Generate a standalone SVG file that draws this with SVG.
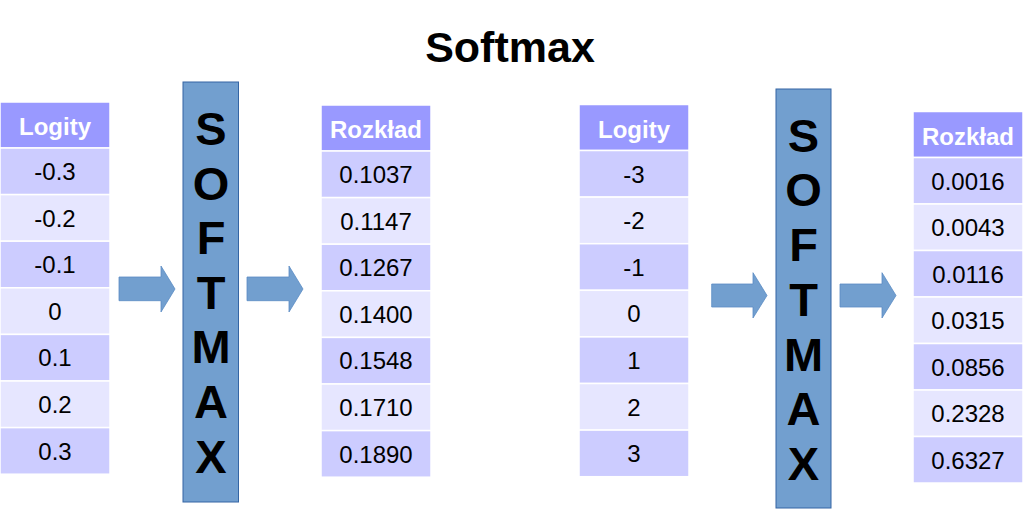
<svg xmlns="http://www.w3.org/2000/svg" width="1024" height="509" viewBox="0 0 1024 509">
<style>
.hd{fill:#9999ff;stroke:#ffffff;stroke-width:1.5}
.r1{fill:#ccccff;stroke:#ffffff;stroke-width:1.5}
.r2{fill:#e6e6ff;stroke:#ffffff;stroke-width:1.5}
.ht{font-family:"Liberation Sans",Arial,sans-serif;font-size:24px;font-weight:bold;fill:#ffffff;text-anchor:middle}
.ct{font-family:"Liberation Sans",Arial,sans-serif;font-size:24px;fill:#000000;text-anchor:middle}
.box{fill:#729fcf;stroke:#3465a4;stroke-width:1}
.bt{font-family:"Liberation Sans",Arial,sans-serif;font-size:47px;font-weight:bold;fill:#000000;text-anchor:middle}
.arr{fill:#729fcf;stroke:#5b8cc4;stroke-width:0.8}
.title{font-family:"Liberation Sans",Arial,sans-serif;font-size:43px;font-weight:bold;fill:#000000;text-anchor:middle}
</style>
<rect width="1024" height="509" fill="#ffffff"/>
<text class="title" x="510" y="62">Softmax</text>

<g id="logity1">
<rect class="hd" x="0" y="102" width="110" height="46"/>
<text class="ht" x="55" y="135">Logity</text>
<rect class="r1" x="0" y="148" width="110" height="46.6"/>
<rect class="r2" x="0" y="194.6" width="110" height="46.6"/>
<rect class="r1" x="0" y="241.2" width="110" height="46.6"/>
<rect class="r2" x="0" y="287.8" width="110" height="46.6"/>
<rect class="r1" x="0" y="334.4" width="110" height="46.6"/>
<rect class="r2" x="0" y="381" width="110" height="46.6"/>
<rect class="r1" x="0" y="427.6" width="110" height="46.6"/>
<text class="ct" x="55" y="180">-0.3</text>
<text class="ct" x="55" y="226.6">-0.2</text>
<text class="ct" x="55" y="273.2">-0.1</text>
<text class="ct" x="55" y="319.8">0</text>
<text class="ct" x="55" y="366.4">0.1</text>
<text class="ct" x="55" y="413">0.2</text>
<text class="ct" x="55" y="459.6">0.3</text>
</g>

<g id="softmax1">
<rect class="box" x="183" y="82" width="55.5" height="420"/>
<text class="bt" x="211" y="145">S</text>
<text class="bt" x="211" y="199.6">O</text>
<text class="bt" x="211" y="254.2">F</text>
<text class="bt" x="211" y="308.8">T</text>
<text class="bt" x="211" y="363.4">M</text>
<text class="bt" x="211" y="418">A</text>
<text class="bt" x="211" y="472.6">X</text>
</g>

<g id="rozklad1">
<rect class="hd" x="321" y="105" width="110" height="46"/>
<text class="ht" x="376" y="138">Rozkład</text>
<rect class="r1" x="321" y="151" width="110" height="46.6"/>
<rect class="r2" x="321" y="197.6" width="110" height="46.6"/>
<rect class="r1" x="321" y="244.2" width="110" height="46.6"/>
<rect class="r2" x="321" y="290.8" width="110" height="46.6"/>
<rect class="r1" x="321" y="337.4" width="110" height="46.6"/>
<rect class="r2" x="321" y="384" width="110" height="46.6"/>
<rect class="r1" x="321" y="430.6" width="110" height="46.6"/>
<text class="ct" x="376" y="183">0.1037</text>
<text class="ct" x="376" y="229.6">0.1147</text>
<text class="ct" x="376" y="276.2">0.1267</text>
<text class="ct" x="376" y="322.8">0.1400</text>
<text class="ct" x="376" y="369.4">0.1548</text>
<text class="ct" x="376" y="416">0.1710</text>
<text class="ct" x="376" y="462.6">0.1890</text>
</g>

<g id="logity2">
<rect class="hd" x="579" y="104.5" width="110" height="46"/>
<text class="ht" x="634" y="137.5">Logity</text>
<rect class="r1" x="579" y="150.5" width="110" height="46.6"/>
<rect class="r2" x="579" y="197.1" width="110" height="46.6"/>
<rect class="r1" x="579" y="243.7" width="110" height="46.6"/>
<rect class="r2" x="579" y="290.3" width="110" height="46.6"/>
<rect class="r1" x="579" y="336.9" width="110" height="46.6"/>
<rect class="r2" x="579" y="383.5" width="110" height="46.6"/>
<rect class="r1" x="579" y="430.1" width="110" height="46.6"/>
<text class="ct" x="634" y="182.5">-3</text>
<text class="ct" x="634" y="229.1">-2</text>
<text class="ct" x="634" y="275.7">-1</text>
<text class="ct" x="634" y="322.3">0</text>
<text class="ct" x="634" y="368.9">1</text>
<text class="ct" x="634" y="415.5">2</text>
<text class="ct" x="634" y="462.1">3</text>
</g>

<g id="softmax2">
<rect class="box" x="776" y="89" width="55" height="419"/>
<text class="bt" x="803.5" y="151.7">S</text>
<text class="bt" x="803.5" y="206.4">O</text>
<text class="bt" x="803.5" y="261.1">F</text>
<text class="bt" x="803.5" y="315.8">T</text>
<text class="bt" x="803.5" y="370.5">M</text>
<text class="bt" x="803.5" y="425.2">A</text>
<text class="bt" x="803.5" y="479.9">X</text>
</g>

<g id="rozklad2">
<rect class="hd" x="913" y="111.5" width="110" height="46"/>
<text class="ht" x="968" y="144.5">Rozkład</text>
<rect class="r1" x="913" y="157.5" width="110" height="46.5"/>
<rect class="r2" x="913" y="204" width="110" height="46.5"/>
<rect class="r1" x="913" y="250.5" width="110" height="46.5"/>
<rect class="r2" x="913" y="297" width="110" height="46.5"/>
<rect class="r1" x="913" y="343.5" width="110" height="46.5"/>
<rect class="r2" x="913" y="390" width="110" height="46.5"/>
<rect class="r1" x="913" y="436.5" width="110" height="46.5"/>
<text class="ct" x="968" y="189.5">0.0016</text>
<text class="ct" x="968" y="236">0.0043</text>
<text class="ct" x="968" y="282.5">0.0116</text>
<text class="ct" x="968" y="329">0.0315</text>
<text class="ct" x="968" y="375.5">0.0856</text>
<text class="ct" x="968" y="422">0.2328</text>
<text class="ct" x="968" y="468.5">0.6327</text>
</g>

<g id="connectors">
<polygon class="arr" points="119,277 161,277 161,266 175,289 161,312 161,300.7 119,300.7"/>
<polygon class="arr" points="247,277 289,277 289,266 303,289 289,312 289,300.7 247,300.7"/>
<polygon class="arr" points="711.7,284 753,284 753,272.7 767,295.5 753,318 753,307 711.7,307"/>
<polygon class="arr" points="840,284 882,284 882,272.7 896,295.5 882,318 882,307 840,307"/>
</g>
</svg>
